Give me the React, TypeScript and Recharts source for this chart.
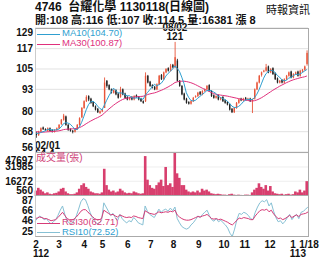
import { Bar, BarChart, CartesianGrid, ComposedChart, Line, LineChart, ReferenceDot, XAxis, YAxis } from "recharts"

const FONT = '"Liberation Sans", Arial, "Noto Sans CJK TC", sans-serif'
const UP = "#e8553a"
const DOWN = "#222222"
const MA10_COLOR = "#2f9fd0"
const MA30_COLOR = "#e0307c"
const VOL_COLOR = "#d83f6e"
const RSI10_COLOR = "#86c0d4"
const RSI30_COLOR = "#d63c78"

// 2 trading days per point, Feb 2023 (112) .. Jan 18 2024 (113)
const opens = [
  67, 66, 68, 70.5, 69.5, 68.5, 70, 69, 68, 69,
  70, 72.5, 75, 77, 72, 69.5, 68.5, 68, 69.5, 72, 76.5, 82,
  86, 89, 87.5, 85.5, 83, 81.5, 79, 80,
  82, 98, 95.5, 93, 91, 92.5, 90.5, 88.5, 93, 90.5, 88.5,
  87, 88.5, 87, 89.5, 88.5, 87.5, 86, 86, 101, 97.5,
  95.5, 94.5, 93, 96, 101.5, 99, 103, 105.5, 104, 107.5,
  106, 110, 98, 95, 90.5, 87.5, 85.5, 84.5, 86, 88.5, 89, 91.5,
  90, 92, 93, 95.5, 92, 89.5, 88, 89.5, 87, 88.5,
  86.5, 85.5, 84, 81.5, 79.5, 82, 85, 87.5, 86.5, 88,
  87, 87.5, 86, 87.5, 93, 97, 101.5, 103.5, 104, 106.5, 103,
  105.5, 102.5, 99.5, 97, 98.5, 97, 99, 101, 103.5, 100,
  102, 103.5, 101, 103.5, 104.5, 108,
]
const closes = [
  66, 68, 70, 69.5, 69, 70, 68.5, 68, 69, 70,
  72, 75, 77.5, 72, 69, 68.5, 68, 69.5, 72, 76, 82, 86,
  88.5, 87, 85, 83, 81, 79.5, 80, 81,
  97, 95, 93, 91, 92.5, 90, 88, 93, 90, 88, 87,
  88, 87, 89, 88.5, 87, 86, 85, 101, 97, 95,
  94, 93, 96, 101, 99, 103, 105, 104, 107, 106,
  112, 98, 95, 90, 87, 85, 84.5, 86, 88, 89, 91, 90,
  92, 93, 95, 92, 89, 88, 89, 87, 88, 86,
  85, 84, 81, 79.5, 82, 85, 87, 86.5, 87.5, 87,
  87.5, 86, 87, 93, 97, 101, 103, 104, 106, 103, 105,
  102, 99, 97, 98, 97, 99, 101, 103, 100, 102,
  103, 101, 104, 104.5, 106.5, 114.5,
]
const highs = [
  68, 68.5, 70.5, 71, 70, 70.5, 70.5, 69.5, 69.5, 70.5,
  72.5, 75.5, 78.5, 77.5, 72.5, 70, 69, 70, 72.5, 76.5, 82.5, 86.5,
  89.5, 89.5, 88, 86, 83.5, 82, 80.5, 81.5,
  100, 98.5, 96, 93.5, 93, 93, 91, 94.5, 93.5, 91, 89,
  88.5, 89, 89.5, 90, 89, 88, 86.5, 103, 101.5, 98,
  96, 95, 96.5, 101.5, 102, 103.5, 105.5, 106, 108, 108,
  121, 111, 98.5, 95.5, 91, 88, 86, 86.5, 88.5, 89.5, 91.5, 92,
  92.5, 93.5, 95.5, 96, 92.5, 90, 89.5, 90, 88.5, 89,
  87, 86, 84.5, 82, 82.5, 85.5, 87.5, 88, 88, 88.5,
  88, 88, 87.5, 93.5, 97.5, 101.5, 103.5, 104.5, 108, 107, 105.5,
  106, 103, 100, 98.5, 99, 99.5, 101.5, 103.5, 104, 102.5,
  103.5, 104, 104.5, 105, 107, 116,
]
const lows = [
  64.4, 65.5, 67.5, 69, 68.5, 68, 68, 67.5, 67.5, 68.5,
  69.5, 72, 74.5, 71.5, 68.5, 68, 67, 67.5, 69, 71.5, 76, 81.5,
  85.5, 86, 84.5, 82.5, 80.5, 79, 78.5, 79.5,
  82, 94, 92.5, 90.5, 90.5, 89.5, 87.5, 88, 89.5, 87.5, 86.5,
  86.5, 86.5, 86.5, 88, 86.5, 85.5, 84.5, 85.5, 96.5, 94.5,
  93.5, 92.5, 92.5, 95.5, 98.5, 98.5, 102.5, 103.5, 103.5, 105.5,
  105.5, 97.5, 94.5, 89.5, 86.5, 84.5, 84, 84, 85.5, 88, 88.5, 89.5,
  89.5, 91.5, 92.5, 91.5, 88.5, 87.5, 87.5, 86.5, 86.5, 85.5,
  84.5, 83.5, 80.5, 79, 79, 81.5, 84.5, 86, 86, 86.5,
  86.5, 85.5, 79, 87, 92.5, 96.5, 100.5, 103, 103.5, 102.5, 102.5,
  101.5, 98.5, 96.5, 96.5, 96.5, 96.5, 98.5, 100.5, 99.5, 99.5,
  101.5, 100.5, 100.5, 103, 104, 107,
]
const volumes = [
  6000, 9000, 7000, 5000, 3000, 4000, 2500, 2000, 3000, 3500,
  5000, 8000, 9000, 5000, 3000, 2000, 2000, 2500, 4000, 8000, 12000, 14000,
  10000, 8000, 5000, 4000, 3000, 3000, 2500, 4000,
  30000, 12000, 7000, 5000, 6000, 4000, 5000, 8000, 6000, 4000, 3000,
  3500, 3000, 5000, 4000, 3000, 2500, 3000, 44000, 18000, 12000,
  9000, 8000, 12000, 15000, 18000, 11000, 32000, 12000, 14000, 10000,
  47697, 25000, 20000, 12000, 12000, 7000, 5000, 4000, 5000, 4000, 6000, 4000,
  8000, 6000, 7000, 5000, 3000, 2500, 2000, 2500, 2000, 1500,
  1500, 1200, 2000, 2500, 1500, 1200, 1500, 1200, 1000, 1500,
  1500, 1200, 4000, 7000, 9000, 14000, 10000, 8000, 12000, 6000, 11000,
  5000, 3000, 2500, 2000, 2500, 1500, 2000, 2500, 1500, 2000,
  5000, 4000, 7000, 4000, 6000, 16381,
]
const ma10 = [
  67, 67, 67.5, 68, 68.5, 69.3, 69.4, 69, 69, 69.1,
  69.5, 70.8, 72.7, 73.3, 73.1, 72.4, 71, 69.4, 69.2, 70.8, 73.5, 77.1,
  80.9, 83.9, 85.7, 85.9, 84.9, 83.1, 81.7, 80.9,
  83.7, 86.5, 89.2, 91.4, 93.7, 92.3, 90.9, 90.9, 90.7, 89.8, 89.2,
  89.2, 88, 87.8, 87.9, 87.9, 87.5, 87.1, 89.5, 91.2, 92.8,
  94.4, 96, 95, 95.8, 96.6, 98.4, 100.8, 102.4, 103.6, 105,
  106.8, 105.4, 103.6, 100.2, 96.4, 91, 88.3, 86.5, 86.1, 86.5, 87.7, 88.8,
  90, 91, 92.2, 92.4, 92.2, 91.4, 90.6, 89, 88.2, 87.6,
  87, 86, 84.8, 83.1, 82.3, 82.3, 82.9, 84, 85.6, 86.6,
  87.1, 86.9, 87, 88.1, 90.1, 92.8, 96.2, 99.6, 102.2, 103.4, 104.2,
  104, 103, 101.2, 100.2, 98.6, 98, 98.4, 99.6, 100, 101,
  101.8, 101.8, 102, 102.9, 103.8, 104.7,
]
const ma30 = [
  68, 67.8, 67.7, 67.7, 67.8, 67.9, 68, 68.1, 68.2, 68.3,
  68.5, 68.8, 69.2, 69.4, 69.5, 69.6, 69.7, 69.8, 70, 70.4, 71, 71.8,
  72.7, 73.5, 74.3, 75, 75.7, 76.3, 77, 77.8,
  79, 80.2, 81.4, 82.5, 83.6, 84.6, 85.5, 86.3, 87, 87.5, 87.8,
  88, 88.2, 88.4, 88.6, 88.7, 88.8, 88.9, 89.4, 89.9, 90.3,
  90.6, 90.9, 91.3, 91.9, 92.4, 93, 93.7, 94.4, 95.2, 96,
  97, 97.4, 97.7, 97.8, 97.8, 97.6, 97.3, 96.9, 96.4, 95.8, 95.1, 94.4,
  93.7, 93, 92.4, 91.8, 91.1, 90.5, 90.1, 89.8, 89.6, 89.4,
  89.2, 89, 88.7, 88.4, 88.1, 87.8, 87.5, 87.2, 86.9, 86.6,
  86.4, 86.2, 86.1, 86.3, 86.7, 87.3, 88, 88.8, 89.7, 90.6, 91.5,
  92.4, 93.2, 94, 94.8, 95.5, 96.2, 96.9, 97.5, 98.1, 98.6,
  99, 99.4, 99.8, 100.1, 100.4, 100.87,
]
const rsi10 = [
  45, 50, 55, 52, 48, 50, 44, 40, 44, 48,
  56, 66, 74, 58, 45, 42, 40, 46, 55, 68, 82, 88,
  86, 75, 62, 52, 45, 40, 42, 46,
  80, 72, 64, 56, 60, 52, 46, 58, 50, 45, 42,
  46, 44, 52, 48, 42, 40, 38, 74, 64, 58,
  55, 52, 60, 68, 62, 66, 68, 64, 70, 65,
  72, 50, 42, 35, 32, 30, 32, 38, 42, 48, 55, 52,
  58, 62, 66, 56, 48, 45, 50, 44, 47, 42,
  38, 32, 22, 16, 30, 48, 60, 58, 62, 60,
  56, 50, 48, 62, 72, 80, 84, 82, 86, 74, 80,
  64, 52, 44, 46, 40, 45, 52, 58, 48, 54,
  58, 50, 62, 64, 68, 72.52,
]
const rsi30 = [
  50, 51, 53, 52, 50, 50, 48, 46, 47, 48,
  52, 57, 62, 56, 50, 48, 47, 49, 53, 58, 64, 67,
  67, 63, 58, 54, 50, 48, 48, 50,
  66, 63, 60, 57, 58, 55, 53, 57, 55, 53, 52,
  53, 52, 55, 54, 52, 51, 50, 65, 62, 60,
  59, 58, 60, 63, 61, 62, 63, 62, 64, 63,
  66, 57, 53, 50, 48, 47, 47, 48, 50, 52, 54, 53,
  55, 56, 58, 54, 50, 49, 50, 48, 49, 47,
  45, 43, 40, 38, 42, 47, 51, 50, 52, 51,
  50, 48, 48, 55, 60, 65, 67, 66, 68, 63, 66,
  59, 54, 50, 51, 48, 50, 53, 56, 52, 55,
  57, 54, 58, 59, 60, 62.71,
]

const monthTickIdx = [0, 10, 21, 29, 40, 50, 60, 71, 82, 91, 102, 112, 119]
const monthTickText = ["2", "3", "4", "5", "6", "7", "8", "9", "10", "11", "12", "1", "1/18"]
const yearTickIdx = [0, 112]
const yearTickText = ["112", "113"]

const priceTicks = [56, 68, 80, 93, 105, 117, 129]
const volumeTicks = [560, 16272, 31985, 47697]
const rsiTicks = [25, 46, 66, 87]

const data = closes.map((c, i) => ({
  i,
  o: opens[i],
  h: highs[i],
  l: lows[i],
  c,
  v: volumes[i],
  ma10: ma10[i],
  ma30: ma30[i],
  rsi10: rsi10[i],
  rsi30: rsi30[i],
}))

function Candle(props: any) {
  const { x, y, width, height, payload } = props
  if (!payload || y == null) return null
  const top = Math.min(y, y + height)
  const span = Math.abs(height)
  const k = payload.h === payload.l ? 0 : span / (payload.h - payload.l)
  const yo = top + (payload.h - payload.o) * k
  const yc = top + (payload.h - payload.c) * k
  const color = payload.c >= payload.o ? UP : DOWN
  const cx = x + width / 2
  const bw = 1.4
  return (
    <g>
      <line x1={cx} x2={cx} y1={top} y2={top + span} stroke={color} strokeWidth={0.9} />
      <rect x={cx - bw / 2} y={Math.min(yo, yc)} width={bw} height={Math.max(1, Math.abs(yo - yc))} fill={color} />
    </g>
  )
}

// volume bar a bit wider than its band so the histogram reads as one mass
function VolBar(props: any) {
  const { x, y, width, height } = props
  if (y == null || !height) return null
  return <rect x={x + width / 2 - 1.3} y={y} width={2.6} height={height} fill={VOL_COLOR} />
}

const yTick = (lo: number, hi: number) => (props: any) => {
  const y = Math.min(hi, Math.max(lo, props.y))
  return (
    <text x={33} y={y} dy={3.5} textAnchor="end" fontSize={10} fontWeight="bold" fill="#111" fontFamily={FONT}>
      {props.payload.value}
    </text>
  )
}

const XTick = (props: any) => {
  const { x, payload } = props
  const k = monthTickIdx.indexOf(payload.value)
  if (k < 0) return <g />
  const yr = yearTickIdx.indexOf(payload.value)
  return (
    <g fontFamily={FONT} fontSize={10} fontWeight="bold" fill="#111">
      <text x={x + 1} y={51.5} textAnchor="middle">{monthTickText[k]}</text>
      {yr >= 0 && <text x={x + 6} y={60.5} textAnchor="middle">{yearTickText[yr]}</text>}
    </g>
  )
}

const HighLabel = (props: any) => {
  const { x, y } = props.viewBox
  const cx = x + 1
  const cy = y + 1
  return (
    <g fontFamily={FONT} fontSize={10} fontWeight="bold" fill="#111" textAnchor="middle">
      <text x={cx} y={cy - 11}>08/02</text>
      <text x={cx} y={cy - 1.5}>121</text>
    </g>
  )
}

const LowLabel = (props: any) => {
  const { y } = props.viewBox
  const cy = y + 1
  return (
    <g fontFamily={FONT} fontSize={10} fontWeight="bold" fill="#111" textAnchor="start">
      <text x={35} y={cy + 11.5}>02/01</text>
      <text x={35} y={cy + 19.5}>64.4</text>
    </g>
  )
}

const abs = (left: number, top: number, extra: any = {}) => ({ position: "absolute" as const, left, top, ...extra })

export default function App() {
  return (
    <div style={{ position: "absolute", left: 0, top: 0, width: 330, height: 264, background: "#fff", fontFamily: FONT, overflow: "hidden" }}>
      <div style={abs(35, 0, { fontSize: 12, fontWeight: "bold", color: "#111", whiteSpace: "nowrap", lineHeight: "15px" })}>
        4746&nbsp;&nbsp;台耀化學 1130118(日線圖)
      </div>
      <div style={abs(266, 3, { fontSize: 11, color: "#111", whiteSpace: "nowrap", lineHeight: "15px" })}>時報資訊</div>
      <div style={abs(35, 13, { fontSize: 11, fontWeight: "bold", color: "#111", whiteSpace: "nowrap", lineHeight: "14px" })}>
        開:108 高:116 低:107 收:114.5 量:16381 漲 8
      </div>

      <div style={abs(0, 0)}>
        <ComposedChart width={330} height={152} data={data} margin={{ top: 28, right: 22, bottom: 0, left: 0 }} barCategoryGap="15%">
          <CartesianGrid vertical={false} stroke="#e2e2e2" />
          <XAxis dataKey="i" hide />
          <YAxis width={35} domain={[56, 129.2]} ticks={priceTicks} interval={0} allowDataOverflow axisLine={false} tickLine={false} tick={yTick(32.5, 147)} />
          <Bar dataKey={(d: any) => [d.l, d.h]} shape={Candle} isAnimationActive={false} />
          <Line dataKey="ma30" stroke={MA30_COLOR} strokeWidth={1} dot={false} isAnimationActive={false} />
          <Line dataKey="ma10" stroke={MA10_COLOR} strokeWidth={1} dot={false} isAnimationActive={false} />
          <ReferenceDot x={61} y={121} r={1} fill="none" stroke="none" label={HighLabel} />
          <ReferenceDot x={0} y={64.4} r={1} fill="none" stroke="none" label={LowLabel} />
        </ComposedChart>
      </div>

      <div style={abs(0, 152)}>
        <BarChart width={330} height={44} data={data} margin={{ top: 0, right: 22, bottom: 0, left: 0 }} barCategoryGap={0}>
          <CartesianGrid vertical={false} stroke="#eeeeee" />
          <XAxis dataKey="i" hide />
          <YAxis width={35} domain={[0, 48500]} ticks={volumeTicks} interval={0} allowDataOverflow axisLine={false} tickLine={false} tick={yTick(8, 38)} />
          <Bar dataKey="v" fill={VOL_COLOR} shape={VolBar} isAnimationActive={false} />
        </BarChart>
      </div>

      <div style={abs(0, 196)}>
        <LineChart width={330} height={68} data={data} margin={{ top: 0, right: 22, bottom: 0, left: 0 }}>
          <XAxis dataKey="i" height={27} interval={0} axisLine={false} tickLine={false} tick={XTick} />
          <YAxis width={35} domain={[15, 93]} ticks={rsiTicks} interval={0} allowDataOverflow axisLine={false} tickLine={false} tick={yTick(4, 36)} />
          <Line dataKey="rsi10" stroke={RSI10_COLOR} strokeWidth={1} dot={false} isAnimationActive={false} />
          <Line dataKey="rsi30" stroke={RSI30_COLOR} strokeWidth={1} dot={false} isAnimationActive={false} />
        </LineChart>
      </div>

      <div style={abs(35, 28, { width: 272, height: 123, border: "1px solid #aaa", borderLeftColor: "#ccc", pointerEvents: "none" })} />
      <div style={abs(35, 152, { width: 272, height: 43, borderRight: "1px solid #aaa", borderBottom: "1px solid #aaa", borderLeft: "1px solid #ccc", pointerEvents: "none" })} />
      <div style={abs(35, 196, { width: 272, height: 40, borderRight: "1px solid #aaa", borderBottom: "1px solid #aaa", borderLeft: "1px solid #ccc", pointerEvents: "none" })} />

      <div style={abs(37, 34, { width: 23, height: 1, background: MA10_COLOR })} />
      <div style={abs(62, 27, { fontSize: 9.5, color: MA10_COLOR, lineHeight: "12px", whiteSpace: "nowrap" })}>MA10(104.70)</div>
      <div style={abs(37, 44, { width: 23, height: 1, background: MA30_COLOR })} />
      <div style={abs(62, 37, { fontSize: 9.5, color: MA30_COLOR, lineHeight: "12px", whiteSpace: "nowrap" })}>MA30(100.87)</div>

      <div style={abs(36, 152, { fontSize: 10, color: "#d0457a", lineHeight: "12px", whiteSpace: "nowrap" })}>成交量(張)</div>

      <div style={abs(37, 223, { width: 23, height: 1, background: RSI30_COLOR })} />
      <div style={abs(62, 216, { fontSize: 9.5, color: RSI30_COLOR, lineHeight: "12px", whiteSpace: "nowrap" })}>RSI30(62.71)</div>
      <div style={abs(37, 232, { width: 23, height: 1, background: RSI10_COLOR })} />
      <div style={abs(62, 226, { fontSize: 9.5, color: MA10_COLOR, lineHeight: "12px", whiteSpace: "nowrap" })}>RSI10(72.52)</div>
    </div>
  )
}
